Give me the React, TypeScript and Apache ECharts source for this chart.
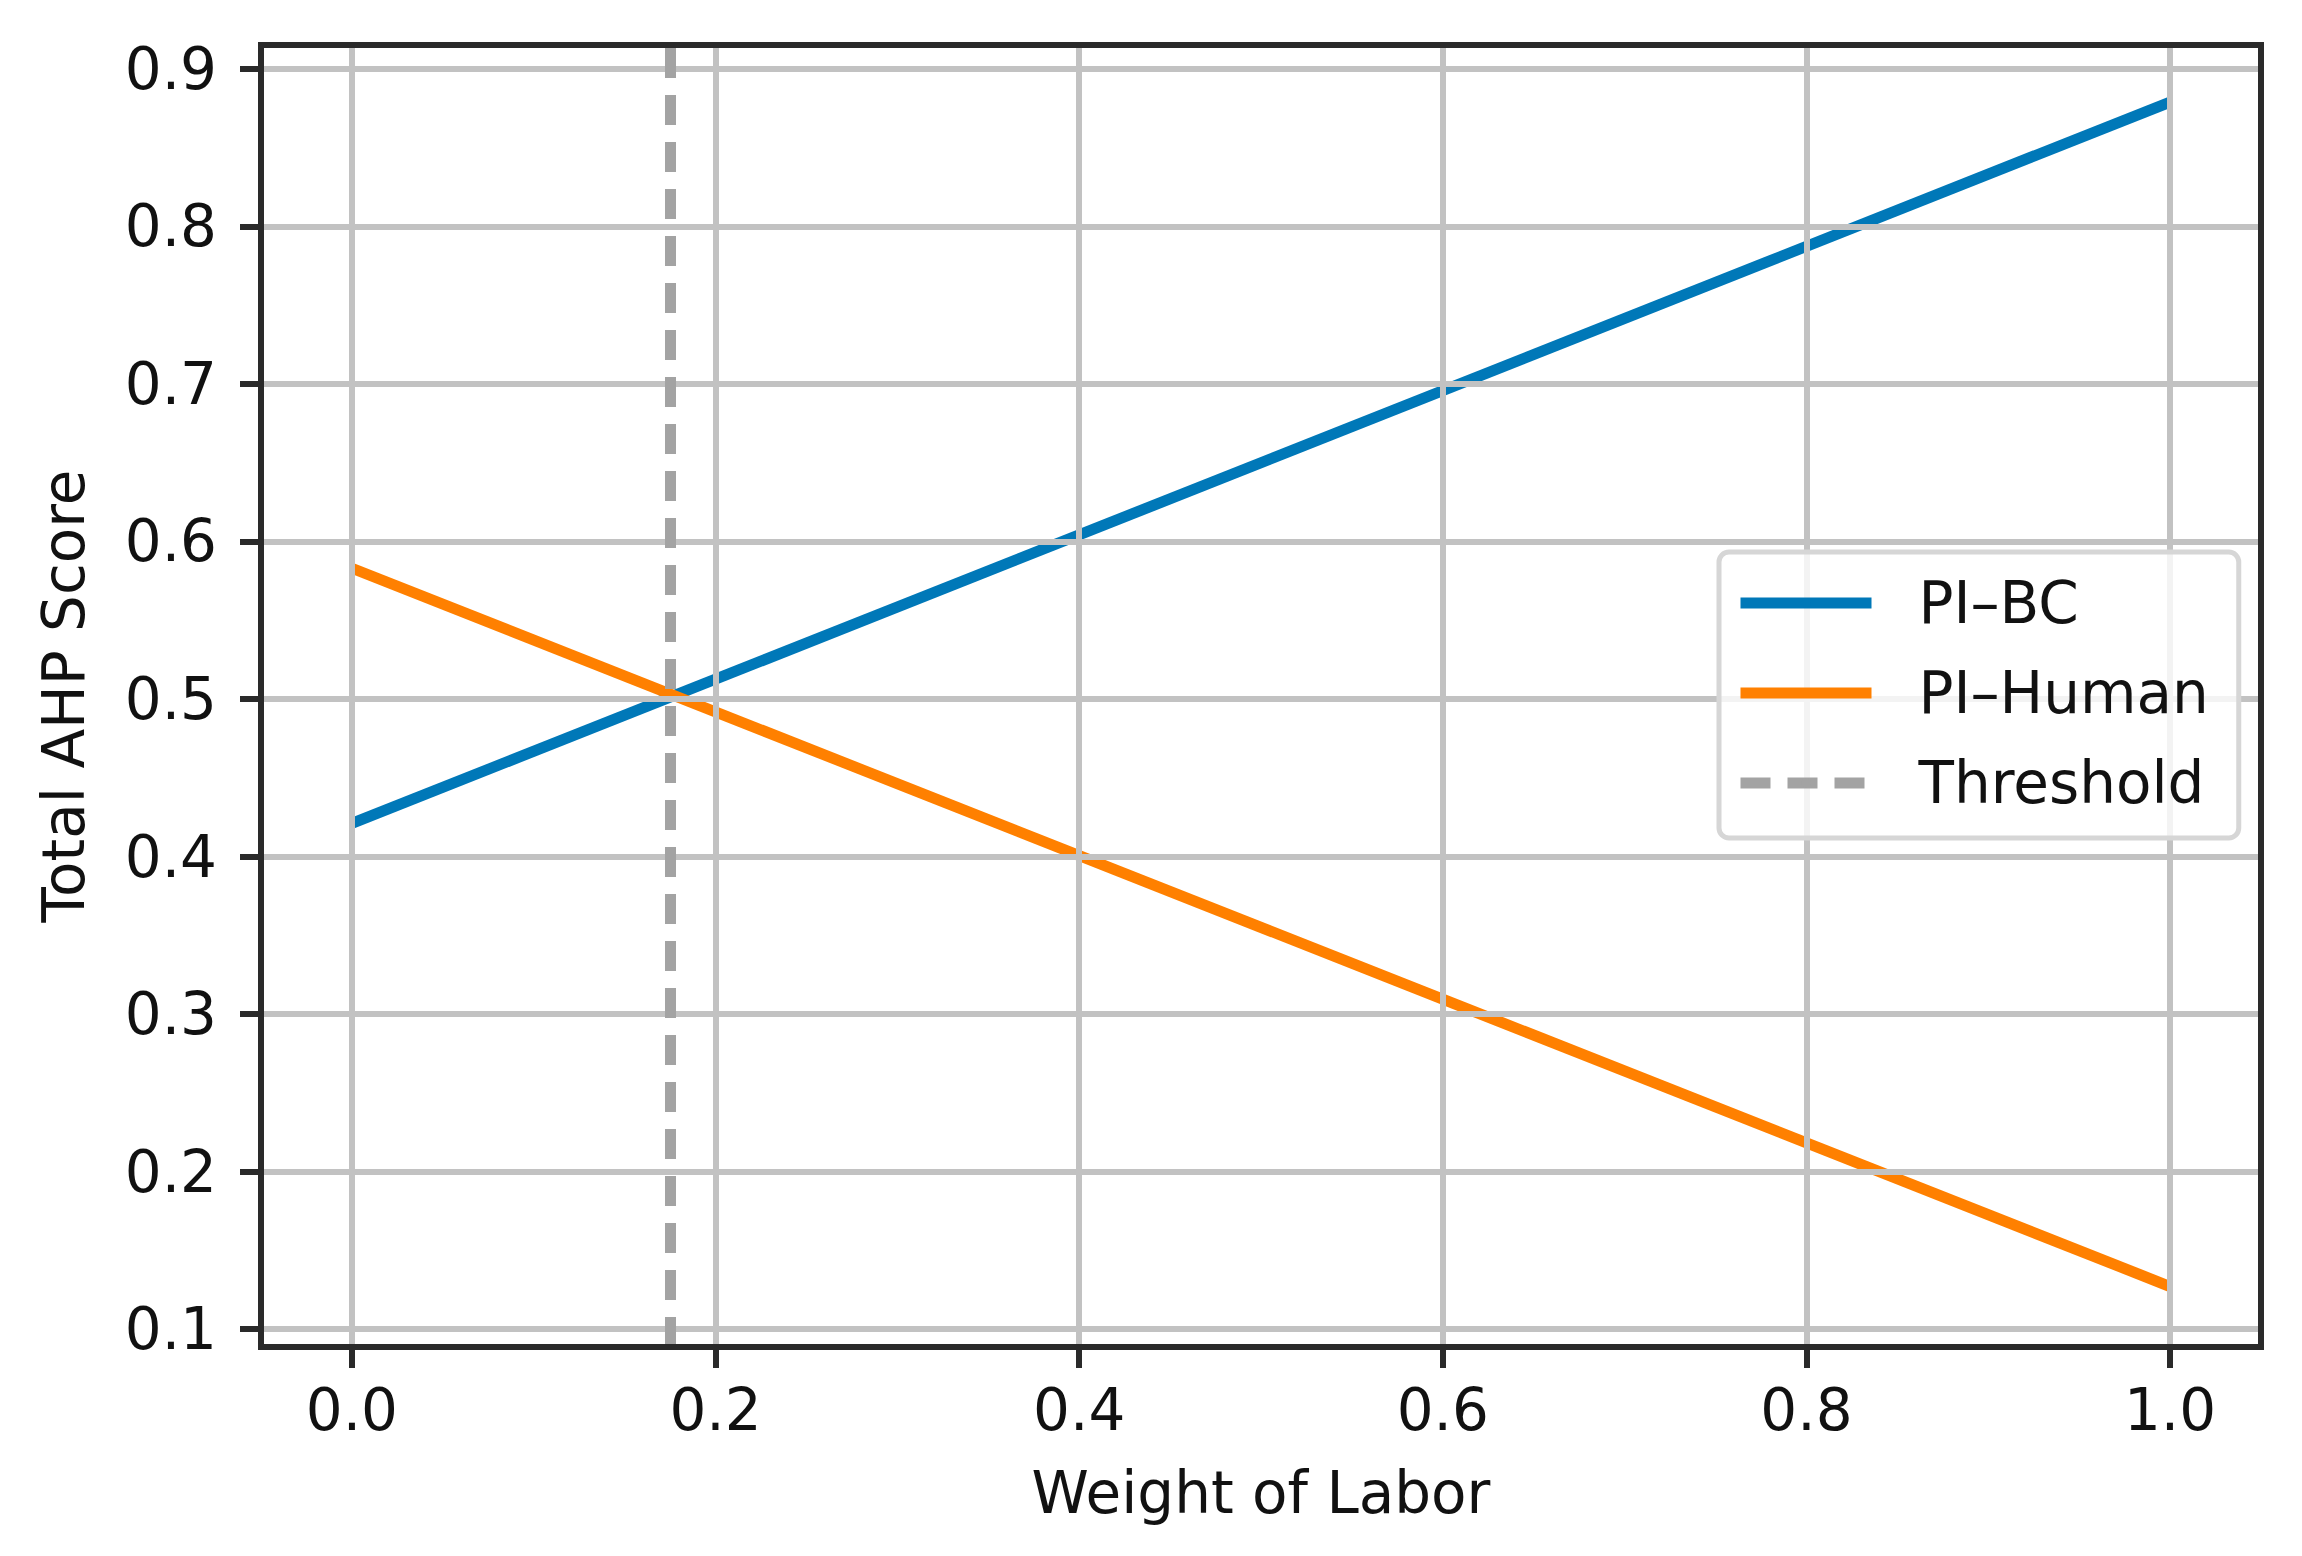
import React, { useEffect, useRef } from "react";
import * as echarts from "echarts";

// ---- data ----
const weights = [0.0, 1.0];
const piBC = [0.421, 0.879];
const piHuman = [0.583, 0.127];
const thresholdX = [0.175];
const xTicks = [0.0, 0.2, 0.4, 0.6, 0.8, 1.0];
const yTicks = [0.1, 0.2, 0.3, 0.4, 0.5, 0.6, 0.7, 0.8, 0.9];
const seriesNames = ["PI–BC", "PI–Human", "Threshold"];
const xTitle = "Weight of Labor";
const yTitle = "Total AHP Score";

const FONT = "DejaVu Sans";
const TEXT = "#111111";
const FRAME = "#2a2a2a";
const GRID = "#c2c2c2";
const BLUE = "#0078b8";
const ORANGE = "#ff8000";
const GRAY = "#a3a3a3";

export default function App() {
  const ref = useRef<HTMLDivElement>(null);

  useEffect(() => {
    if (!ref.current) return;
    const chart = echarts.init(ref.current, null, { renderer: "svg" });
    const fmt = (v: number) => Number(v).toFixed(1);
    const labelStyle = { fontFamily: FONT, fontSize: 58, color: TEXT };
    const xMin = -0.05, xMax = 1.05, yMin = 0.0886, yMax = 0.9152;
    const dash = [30, 17];

    const option: any = {
      animation: false,
      backgroundColor: "#ffffff",
      textStyle: { fontFamily: FONT },
      grid: {
        left: 261,
        top: 45,
        width: 2000,
        height: 1302,
        containLabel: false,
        outerBoundsMode: "none",
      },
      legend: {
        data: seriesNames,
        orient: "vertical",
        left: 1719,
        top: 552,
        itemWidth: 131,
        itemHeight: 12,
        itemGap: 32,
        padding: [22, 30, 26, 16],
        backgroundColor: "rgba(255,255,255,0.8)",
        borderColor: "#d6d6d6",
        borderWidth: 5,
        borderRadius: 10,
        lineStyle: { width: 11 },
        textStyle: {
          fontFamily: FONT,
          fontSize: 58,
          color: TEXT,
          lineHeight: 58,
          padding: [0, 0, 0, 42],
        },
        z: 20,
      },
      xAxis: [
        {
          type: "value",
          position: "bottom",
          min: xMin,
          max: xMax,
          z: 10,
          axisLine: { show: true, onZero: false, lineStyle: { color: FRAME, width: 6, cap: "square" } },
          axisTick: { show: true, customValues: xTicks, length: 21, inside: false, lineStyle: { color: FRAME, width: 6 } },
          axisLabel: { show: true, customValues: xTicks, formatter: fmt, margin: 34, ...labelStyle },
          splitLine: { show: false },
          name: xTitle,
          nameLocation: "middle",
          nameGap: 117,
          nameTextStyle: { ...labelStyle },
        },
        {
          type: "value",
          position: "top",
          min: xMin,
          max: xMax,
          z: 10,
          axisLine: { show: true, onZero: false, lineStyle: { color: FRAME, width: 6, cap: "square" } },
          axisTick: { show: false },
          axisLabel: { show: false },
          splitLine: { show: false },
        },
      ],
      yAxis: [
        {
          type: "value",
          position: "left",
          min: yMin,
          max: yMax,
          z: 10,
          axisLine: { show: true, onZero: false, lineStyle: { color: FRAME, width: 6, cap: "square" } },
          axisTick: { show: true, customValues: yTicks, length: 21, inside: false, lineStyle: { color: FRAME, width: 6 } },
          axisLabel: { show: true, customValues: yTicks, formatter: fmt, margin: 44, ...labelStyle },
          splitLine: { show: false },
          name: yTitle,
          nameLocation: "middle",
          nameRotate: 90,
          nameGap: 168,
          nameTextStyle: { ...labelStyle },
        },
        {
          type: "value",
          position: "right",
          min: yMin,
          max: yMax,
          z: 10,
          axisLine: { show: true, onZero: false, lineStyle: { color: FRAME, width: 6, cap: "square" } },
          axisTick: { show: false },
          axisLabel: { show: false },
          splitLine: { show: false },
        },
      ],
      series: [
        {
          name: "_grid",
          type: "line",
          data: [],
          silent: true,
          z: 1,
          markLine: {
            silent: true,
            precision: 4,
            symbol: ["none", "none"],
            label: { show: false },
            lineStyle: { color: GRID, width: 6, type: "solid" },
            emphasis: { disabled: true },
            data: [
              ...xTicks.map((v) => ({ xAxis: v })),
              ...yTicks.map((v) => ({ yAxis: v })),
            ],
          },
        },
        {
          name: seriesNames[0],
          type: "line",
          data: weights.map((w, i) => [w, piBC[i]]),
          showSymbol: false,
          symbol: "none",
          z: 3,
          color: BLUE,
          lineStyle: { color: BLUE, width: 11 },
        },
        {
          name: seriesNames[1],
          type: "line",
          data: weights.map((w, i) => [w, piHuman[i]]),
          showSymbol: false,
          symbol: "none",
          z: 3,
          color: ORANGE,
          lineStyle: { color: ORANGE, width: 11 },
        },
        {
          name: seriesNames[2],
          type: "line",
          data: [],
          showSymbol: false,
          symbol: "none",
          z: 2,
          color: GRAY,
          lineStyle: { color: GRAY, width: 11, type: dash },
          markLine: {
            silent: true,
            precision: 4,
            symbol: ["none", "none"],
            label: { show: false },
            lineStyle: { color: GRAY, width: 11, type: dash },
            emphasis: { disabled: true },
            data: thresholdX.map((v) => ({ xAxis: v })),
          },
        },
      ],
    };

    chart.setOption(option);
    return () => chart.dispose();
  }, []);

  return (
    <div
      ref={ref}
      style={{ position: "fixed", left: 0, top: 0, width: 2302, height: 1556, background: "#fff" }}
    />
  );
}
